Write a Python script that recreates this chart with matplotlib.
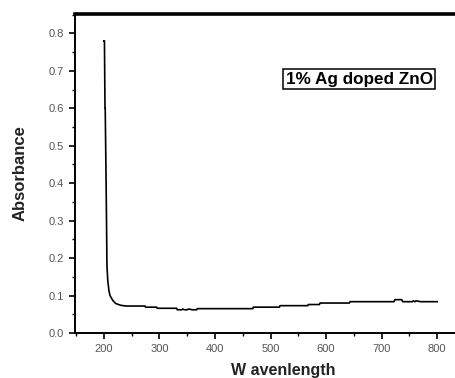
import matplotlib
matplotlib.use("Agg")
import matplotlib.pyplot as plt
from matplotlib.ticker import MultipleLocator

# ---- data ----
wavelength = [200, 201, 202, 202.4, 204, 204.8, 205.5, 207, 209, 211, 216, 221, 230, 240,
              274, 275, 295, 296, 331, 332, 340, 342, 345, 350, 352, 360, 367, 368,
              380, 400, 468, 469, 516, 517, 567, 568, 588, 589, 642, 643,
              722, 724, 736, 738, 755, 757, 760, 762, 770, 800]
absorbance = [0.78, 0.78, 0.60, 0.60, 0.40, 0.29, 0.18, 0.14, 0.114, 0.10, 0.087, 0.079, 0.074, 0.072,
              0.072, 0.069, 0.069, 0.066, 0.066, 0.062, 0.062, 0.064, 0.062, 0.062, 0.064, 0.062, 0.062, 0.065,
              0.065, 0.065, 0.065, 0.069, 0.069, 0.073, 0.073, 0.076, 0.076, 0.080, 0.080, 0.0836,
              0.0836, 0.089, 0.089, 0.0836, 0.0836, 0.086, 0.0836, 0.086, 0.0836, 0.0836]

x_ticks = [200, 300, 400, 500, 600, 700, 800]
y_ticks = [0.0, 0.1, 0.2, 0.3, 0.4, 0.5, 0.6, 0.7, 0.8]
label = "1% Ag doped ZnO"

plt.rcParams["font.family"] = ["Liberation Sans", "DejaVu Sans"]

fig = plt.figure(figsize=(4.56, 3.78), dpi=100)
# axes run past the right edge of the picture, like the cropped original
ax = fig.add_axes([75 / 456, 45 / 378, (465 - 75) / 456, (333 - 13.5) / 378])

ax.plot(wavelength, absorbance, color="black", lw=1.2)

ax.set_xlim(148, 850)
ax.set_ylim(0, 0.853)
ax.set_xticks(x_ticks)
ax.set_yticks(y_ticks)
ax.set_yticklabels([f"{v:.1f}" for v in y_ticks])
ax.xaxis.set_minor_locator(MultipleLocator(50))
ax.yaxis.set_minor_locator(MultipleLocator(0.05))
ax.tick_params(which="major", direction="out", length=4, width=1.2,
               labelsize=8, labelcolor="#555555", pad=4)
ax.tick_params(which="minor", direction="out", length=2.5, width=1.0)

ax.spines["left"].set_linewidth(1.4)
ax.spines["bottom"].set_linewidth(1.4)
ax.spines["top"].set_linewidth(2.6)
ax.spines["right"].set_visible(False)

fig.text(20 / 456, 1 - 173 / 378, "Absorbance", rotation=90, fontsize=12,
         fontweight="bold", color="#222222", ha="center", va="center")
fig.text(283 / 456, 1 - 371 / 378, "W avenlength", fontsize=11.5,
         fontweight="bold", color="#222222", ha="center", va="center")

ax.text(527, 0.677, label, fontsize=12.3, fontweight="bold", va="center", ha="left",
        bbox=dict(boxstyle="square,pad=0.15", fc="white", ec="black", lw=1.1))

fig.savefig("out.png", dpi=100)
